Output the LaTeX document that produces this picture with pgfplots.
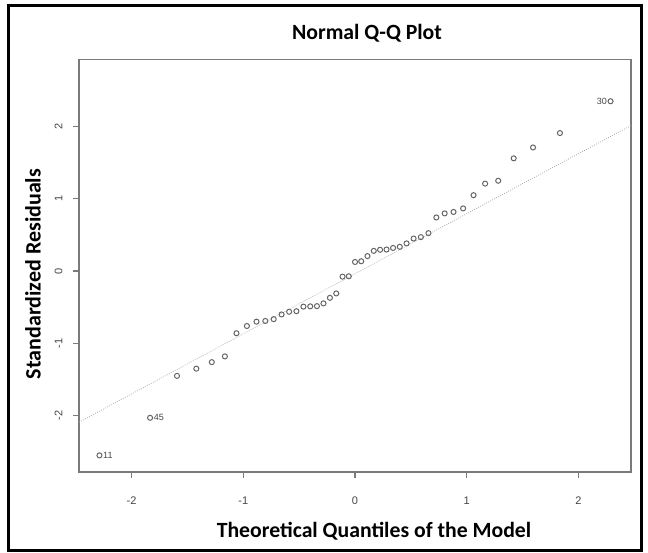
\documentclass[border=0pt]{standalone}
\usepackage{fontspec}
\setmainfont{Carlito}
\newfontfamily\arialfont{Liberation Sans}
\usepackage{pgfplots}
\pgfplotsset{compat=1.18}
\definecolor{boxgray}{HTML}{7A7A7A}
\definecolor{ptgray}{HTML}{656565}
\definecolor{linegray}{HTML}{ABABAB}
\definecolor{labgray}{HTML}{454545}
\begin{document}
\begin{tikzpicture}[x=1pt,y=1pt]
\begin{axis}[
  at={(0,0)}, anchor=south west,
  scale only axis, width=414pt, height=309.5pt,
  xmin=-2.47, xmax=2.47, ymin=-2.78, ymax=2.93,
  axis line style={boxgray, line width=1pt},
  xtick={-2,-1,0,1,2}, ytick={-2,-1,0,1,2},
  xticklabels={-2,-1,0,1,2}, yticklabels={-2,-1,0,1,2},
  xtick pos=bottom, ytick pos=left,
  tick align=outside, major tick length=4.5pt,
  tick style={boxgray, line width=1pt},
  ticklabel style={font=\arialfont\fontsize{8.25}{9}\selectfont, text=labgray},
  xticklabel style={anchor=base, yshift=-20pt},
  yticklabel style={xshift=-8pt, rotate=90, anchor=base},
  clip=false,
]
\addplot[linegray, line width=0.6pt, dash pattern=on 0.6pt off 1.1pt] coordinates {(-2.47,-2.09) (2.47,2.015)};
\addplot[only marks, mark=o, mark size=1.9pt, mark options={ptgray, line width=0.75pt}] coordinates {
(-2.2868,-2.55) (-1.8339,-2.03) (-1.5932,-1.45) (-1.4201,-1.35) (-1.2816,-1.26)
(-1.1645,-1.18) (-1.0607,-0.86) (-0.9674,-0.76) (-0.8816,-0.70) (-0.8024,-0.69)
(-0.7279,-0.665) (-0.6571,-0.60) (-0.5895,-0.563) (-0.5244,-0.555) (-0.4615,-0.492)
(-0.4005,-0.488) (-0.3407,-0.485) (-0.2822,-0.447) (-0.2245,-0.37) (-0.1679,-0.309)
(-0.1116,-0.077) (-0.0557,-0.072) (0,0.126) (0.0557,0.136) (0.1116,0.207)
(0.1679,0.28) (0.2245,0.295) (0.2822,0.298) (0.3407,0.32) (0.4005,0.336)
(0.4615,0.383) (0.5244,0.45) (0.5895,0.47) (0.6571,0.525) (0.7279,0.742)
(0.8024,0.798) (0.8816,0.818) (0.9674,0.867) (1.0607,1.05) (1.1645,1.21)
(1.2816,1.25) (1.4201,1.56) (1.5932,1.71) (1.8339,1.91) (2.2868,2.35)
};
\node[anchor=west, inner sep=0pt, xshift=2.6pt, font=\arialfont\fontsize{6.75}{7}\selectfont, text=labgray] at (axis cs:-2.2868,-2.55) {11};
\node[anchor=west, inner sep=0pt, xshift=2.6pt, font=\arialfont\fontsize{6.75}{7}\selectfont, text=labgray] at (axis cs:-1.8339,-2.03) {45};
\node[anchor=east, inner sep=0pt, xshift=-2.6pt, font=\arialfont\fontsize{6.75}{7}\selectfont, text=labgray] at (axis cs:2.2868,2.35) {30};
\end{axis}
\node[anchor=base, font=\bfseries\fontsize{16.3}{18}\selectfont] at (216,324.4) {Normal Q-Q Plot};
\node[anchor=center, rotate=90, font=\bfseries\fontsize{16.5}{18}\selectfont] at (-34.5,148.5) {Standardized Residuals};
\node[anchor=center, font=\bfseries\fontsize{16.3}{18}\selectfont] at (221.25,-44.5) {Theoretical Quantiles of the Model};
\draw[black, line width=2.25pt] (-52.5,-58.5) rectangle (421.5,349.5);
\pgfresetboundingbox
\path (-59.25,-60) rectangle (426.75,354);
\end{tikzpicture}
\end{document}
